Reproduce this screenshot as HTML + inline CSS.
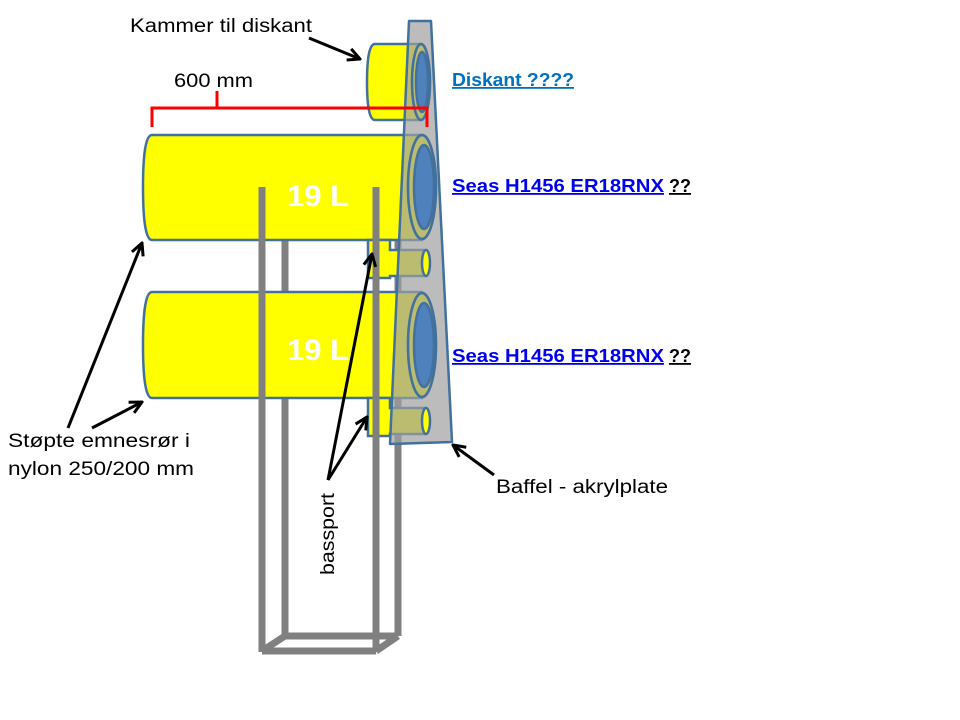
<!DOCTYPE html>
<html><head><meta charset="utf-8"><style>html,body{margin:0;padding:0;background:#fff}svg{display:block}</style></head>
<body>
<svg width="960" height="720" viewBox="0 0 960 720" xmlns="http://www.w3.org/2000/svg" font-family="Liberation Sans, sans-serif">
<defs>
<marker id="ah" viewBox="0 0 10 10" refX="9" refY="5" markerWidth="5" markerHeight="5" orient="auto-start-reverse">
<path d="M1,1 L9,5 L1,9" fill="none" stroke="#000" stroke-width="2"/>
</marker>
</defs>
<g stroke="#808080" stroke-width="7" fill="none">
<line x1="285" y1="240" x2="285" y2="636"/>
<line x1="398" y1="240" x2="398" y2="636"/>
<line x1="285" y1="636" x2="398" y2="636"/>
</g>
<path d="M375,44 L421,44 L421,120 L375,120 Q367,120 367,82 Q367,44 375,44 Z" fill="#ffff00" stroke="#41719c" stroke-width="2.5"/>
<ellipse cx="421" cy="82" rx="9" ry="38" fill="#ffff00" stroke="#41719c" stroke-width="2.5"/>
<path d="M152,135 L422,135 L422,240 L152,240 Q143,240 143,187 Q143,135 152,135 Z" fill="#ffff00" stroke="#41719c" stroke-width="2.5"/>
<ellipse cx="422" cy="187" rx="14" ry="52" fill="#ffff00" stroke="#41719c" stroke-width="2.5"/>
<path d="M152,292 L422,292 L422,398 L152,398 Q143,398 143,345 Q143,292 152,292 Z" fill="#ffff00" stroke="#41719c" stroke-width="2.5"/>
<ellipse cx="422" cy="345" rx="14" ry="52" fill="#ffff00" stroke="#41719c" stroke-width="2.5"/>
<g stroke="#41719c" stroke-width="2.5">
<path d="M368,240 L390,240 L390,250 L426,250 L426,276 L390,276 L390,278 L368,278 Z" fill="#ffff00"/>
<path d="M368,398 L390,398 L390,408 L426,408 L426,434 L390,434 L390,436 L368,436 Z" fill="#ffff00"/>
</g>
<polygon points="409,21 431,21 452,442 390,444" fill="rgba(160,160,160,0.7)" stroke="#41719c" stroke-width="2.5" stroke-linejoin="round"/>
<ellipse cx="426" cy="263" rx="4" ry="13" fill="#ffff00" stroke="#41719c" stroke-width="2.5"/>
<ellipse cx="426" cy="421" rx="4" ry="13" fill="#ffff00" stroke="#41719c" stroke-width="2.5"/>
<g stroke="#41719c" stroke-width="2.5">
<ellipse cx="421" cy="82" rx="9" ry="38" fill="none"/>
<ellipse cx="422" cy="82" rx="6" ry="30" fill="#4f81bd"/>
<ellipse cx="422" cy="187" rx="14" ry="52" fill="none"/>
<ellipse cx="424" cy="187" rx="10" ry="42" fill="#4f81bd"/>
<ellipse cx="422" cy="345" rx="14" ry="52" fill="none"/>
<ellipse cx="424" cy="345" rx="10" ry="42" fill="#4f81bd"/>
</g>
<g stroke="#808080" stroke-width="7" fill="none">
<line x1="262" y1="187" x2="262" y2="652"/>
<line x1="376" y1="187" x2="376" y2="652"/>
<line x1="262" y1="651" x2="376" y2="651"/>
<line x1="262" y1="651" x2="285" y2="636"/>
<line x1="376" y1="651" x2="398" y2="636"/>
</g>
<path d="M152,127 L152,108 L427,108 L427,127 M217,108 L217,91" fill="none" stroke="#ff0000" stroke-width="3"/>
<text x="287" y="206" font-size="30" font-weight="bold" fill="#fff" textLength="62" lengthAdjust="spacingAndGlyphs">19 L</text>
<text x="287" y="360" font-size="30" font-weight="bold" fill="#fff" textLength="62" lengthAdjust="spacingAndGlyphs">19 L</text>
<text x="130" y="32" font-size="19" fill="#000" textLength="182" lengthAdjust="spacingAndGlyphs">Kammer til diskant</text>
<text x="174" y="87" font-size="19" fill="#000" textLength="79" lengthAdjust="spacingAndGlyphs">600 mm</text>
<text x="452" y="86" font-size="18" font-weight="bold" fill="#0070c0" text-decoration="underline" textLength="122" lengthAdjust="spacingAndGlyphs">Diskant ????</text>
<text x="452" y="192" font-size="18" font-weight="bold" fill="#0000ee" textLength="212" lengthAdjust="spacingAndGlyphs" text-decoration="underline">Seas H1456 ER18RNX </text>
<text x="669" y="192" font-size="18" font-weight="bold" fill="#000" text-decoration="underline">??</text>
<text x="452" y="362" font-size="18" font-weight="bold" fill="#0000ee" textLength="212" lengthAdjust="spacingAndGlyphs" text-decoration="underline">Seas H1456 ER18RNX </text>
<text x="669" y="362" font-size="18" font-weight="bold" fill="#000" text-decoration="underline">??</text>
<text x="8" y="447" font-size="19" fill="#000" textLength="182" lengthAdjust="spacingAndGlyphs">Støpte emnesrør i</text>
<text x="8" y="475" font-size="19" fill="#000" textLength="186" lengthAdjust="spacingAndGlyphs">nylon 250/200 mm</text>
<text x="496" y="493" font-size="19" fill="#000" textLength="172" lengthAdjust="spacingAndGlyphs">Baffel - akrylplate</text>
<text transform="translate(334,575) rotate(-90)" font-size="19" fill="#000" textLength="82" lengthAdjust="spacingAndGlyphs">bassport</text>
<g stroke="#000" stroke-width="3" fill="none" marker-end="url(#ah)">
<line x1="309" y1="38" x2="360" y2="59"/>
<line x1="68" y1="428" x2="142" y2="243"/>
<line x1="92" y1="428" x2="142" y2="402"/>
<line x1="328" y1="480" x2="372" y2="254"/>
<line x1="328" y1="480" x2="367" y2="417"/>
<line x1="494" y1="475" x2="453" y2="445"/>
</g>
</svg>
</body></html>
